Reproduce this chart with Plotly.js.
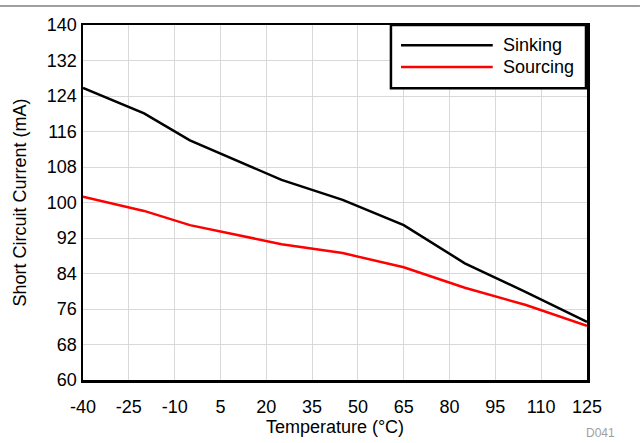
<!DOCTYPE html>
<html>
<head>
<meta charset="utf-8">
<script src="https://cdn.plot.ly/plotly-3.0.1.min.js"></script>
<style>html,body{margin:0;padding:0;background:#fff;}#chart{width:640px;height:443px;}</style>
</head>
<body>
<div id="chart"></div>
<script>
const temperature = [-40, -20, -5, 25, 45, 65, 85, 105, 125];
const sinking = [125.8, 120.1, 114.0, 105.1, 100.6, 94.9, 86.3, 79.8, 73.1];
const sourcing = [101.3, 98.1, 94.9, 90.6, 88.6, 85.4, 80.8, 76.9, 72.2];
const xTicks = [-40, -25, -10, 5, 20, 35, 50, 65, 80, 95, 110, 125];
const yTicks = [60, 68, 76, 84, 92, 100, 108, 116, 124, 132, 140];
const seriesNames = ['Sinking', 'Sourcing'];
const seriesColors = ['#000000', '#ff0000'];

const font = 'Liberation Sans, Arial, sans-serif';

const traces = [
  {x: temperature, y: sinking, name: seriesNames[0], mode: 'lines', line: {color: seriesColors[0], width: 2.5}, showlegend: false},
  {x: temperature, y: sourcing, name: seriesNames[1], mode: 'lines', line: {color: seriesColors[1], width: 2.5}, showlegend: false}
];

// legend drawn in paper coordinates
const lgX0 = 0.611, lgX1 = 0.998, lgY0 = 0.822, lgY1 = 1.0;
const lineX0 = 0.631, lineX1 = 0.813, textX = 0.830;
const rowY = [0.943, 0.882];

const shapes = [
  {type: 'line', xref: 'paper', yref: 'paper', x0: -0.1647, x1: 1.105, y0: 1.0535, y1: 1.0535, line: {color: '#7f7f7f', width: 1.5}},
  {type: 'rect', xref: 'paper', yref: 'paper', x0: lgX0, x1: lgX1, y0: lgY0, y1: lgY1, fillcolor: '#ffffff', line: {color: '#000000', width: 2.5}, layer: 'above'}
];
const annotations = [
  {xref: 'paper', yref: 'paper', x: 1.0595, y: -0.149, xanchor: 'right', yanchor: 'middle', text: 'D041', showarrow: false, font: {family: font, size: 12, color: '#a0a0a0'}}
];
seriesNames.forEach((n, i) => {
  shapes.push({type: 'line', xref: 'paper', yref: 'paper', x0: lineX0, x1: lineX1, y0: rowY[i], y1: rowY[i], line: {color: seriesColors[i], width: 2.5}, layer: 'above'});
  annotations.push({xref: 'paper', yref: 'paper', x: textX, y: rowY[i], xanchor: 'left', yanchor: 'middle', text: n, showarrow: false, font: {family: font, size: 18, color: '#000'}});
});

const layout = {
  width: 640, height: 443,
  margin: {l: 83, r: 53, t: 25, b: 63},
  paper_bgcolor: '#ffffff', plot_bgcolor: '#ffffff',
  font: {family: font, size: 18, color: '#000'},
  showlegend: false,
  xaxis: {
    range: [-40, 125], tickvals: xTicks, ticktext: xTicks.map(String),
    showgrid: true, gridcolor: '#d9d9d9', gridwidth: 1,
    showline: true, linecolor: '#000', linewidth: 2.5, mirror: true,
    zeroline: false, ticks: '', ticklabelstandoff: 9,
    tickfont: {family: font, size: 18, color: '#000'},
    title: {text: 'Temperature (°C)', font: {family: font, size: 18, color: '#000'}, standoff: 0}
  },
  yaxis: {
    range: [60, 140], tickvals: yTicks, ticktext: yTicks.map(String),
    showgrid: true, gridcolor: '#d9d9d9', gridwidth: 1,
    showline: true, linecolor: '#000', linewidth: 2.5, mirror: true,
    zeroline: false, ticks: '',
    tickfont: {family: font, size: 18, color: '#000'},
    title: {text: 'Short Circuit Current (mA)', font: {family: font, size: 18, color: '#000'}, standoff: 16}
  },
  shapes: shapes,
  annotations: annotations
};

Plotly.newPlot('chart', traces, layout, {displayModeBar: false, staticPlot: true});
</script>
</body>
</html>
